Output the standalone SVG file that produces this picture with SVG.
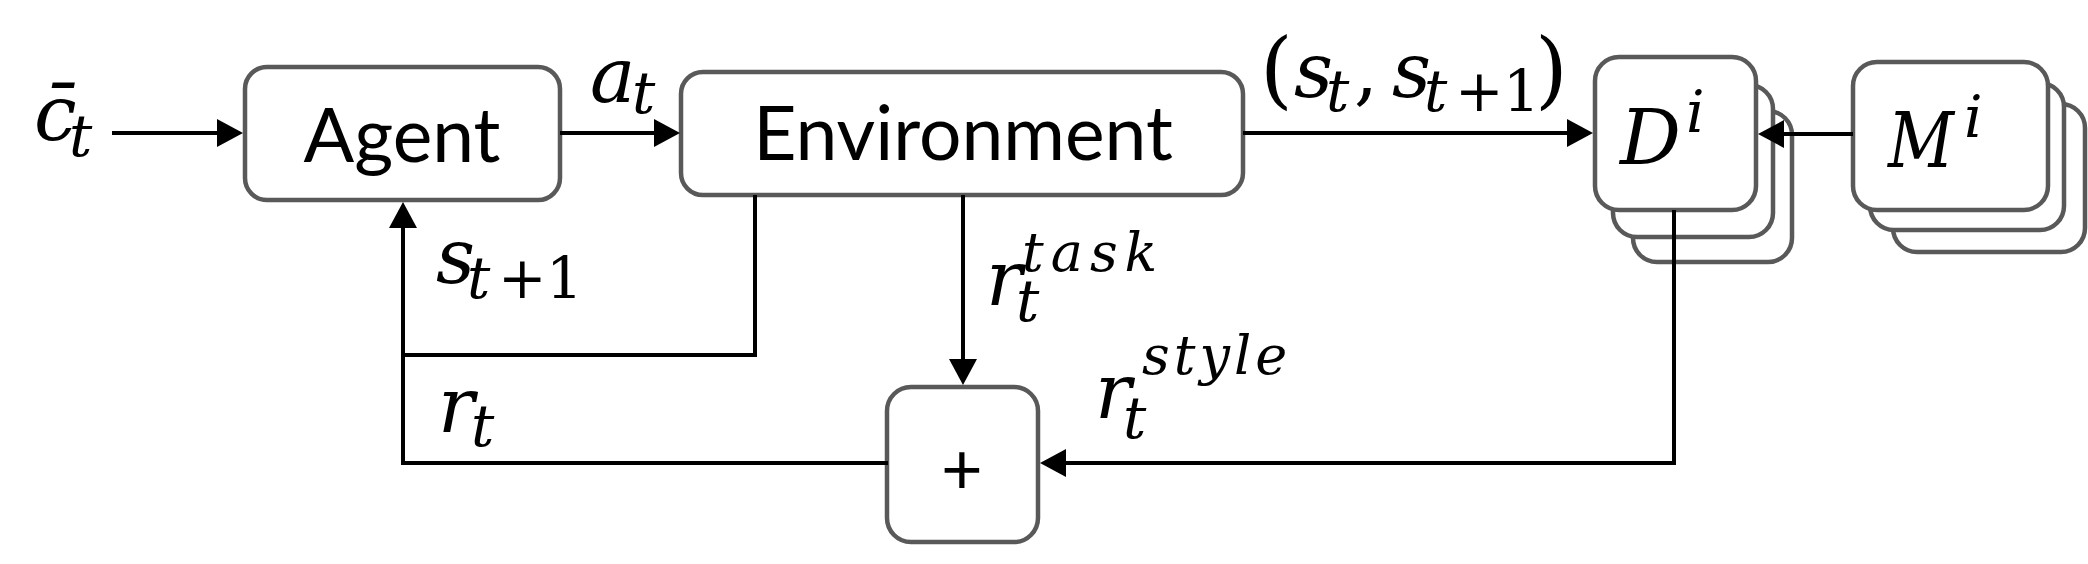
<svg xmlns="http://www.w3.org/2000/svg" width="2088" height="564" viewBox="0 0 2088 564">
<style>
.box{fill:#fff;stroke:#595959;stroke-width:4.5}
.lbl{font-family:Lato,"Liberation Sans",sans-serif;font-size:75px;fill:#000}
.m{font-family:"DejaVu Serif",serif;font-style:italic;font-size:76px;fill:#000}
.s{font-size:58px}
.u{font-style:normal;font-size:58px}
.p{font-style:normal;font-size:84px}
.sup{font-size:54px}
.ln{fill:none;stroke:#000;stroke-width:4;stroke-linejoin:miter}
.arr{marker-end:url(#ah)}
</style>
<defs>
<marker id="ah" markerUnits="userSpaceOnUse" markerWidth="26" markerHeight="28" viewBox="0 0 26 28" refX="20" refY="14" orient="auto">
<path d="M0,0 L26,14 L0,28 z" fill="#000"/>
</marker>
</defs>
<rect width="2088" height="564" fill="#fff"/>
<g id="agent">
<rect class="box" x="245" y="67" width="315" height="133" rx="22"/>
<text class="lbl" x="402" y="162" text-anchor="middle">Agent</text>
</g>
<g id="environment">
<rect class="box" x="681" y="72" width="562" height="123" rx="22"/>
<text class="lbl" x="963" y="160" text-anchor="middle">Environment</text>
</g>
<g id="sum">
<rect class="box" x="887" y="387" width="151" height="155" rx="24"/>
<text class="lbl" x="962" y="494" text-anchor="middle" style="font-size:72px">+</text>
</g>
<g id="discriminators">
<rect class="box" x="1633" y="111" width="159" height="151" rx="24"/>
<rect class="box" x="1613" y="85" width="160" height="152" rx="24"/>
<rect class="box" x="1595" y="57" width="161" height="153" rx="24"/>
<text class="m" x="1620" y="164">D<tspan class="s" x="1686" y="132">i</tspan></text>
</g>
<g id="models">
<rect class="box" x="1893" y="104" width="192" height="148" rx="24"/>
<rect class="box" x="1870" y="83" width="194" height="147" rx="24"/>
<rect class="box" x="1853" y="62" width="195" height="148" rx="24"/>
<text class="m" x="1888" y="167"><tspan textLength="66" lengthAdjust="spacingAndGlyphs">M</tspan><tspan class="s" x="1964" y="137">i</tspan></text>
</g>
<g id="connectors">
<path class="ln arr" d="M112,133 H237"/>
<path class="ln arr" d="M560,133 H674"/>
<path class="ln arr" d="M1243,133 H1587"/>
<path class="ln arr" d="M1853,134 H1764"/>
<path class="ln" d="M755,195 V355 H403"/>
<path class="ln arr" d="M888,463 H403 V208"/>
<path class="ln arr" d="M963,195 V379"/>
<path class="ln arr" d="M1674,210 V463 H1046"/>
</g>
<g id="labels">
<text class="m" x="34" y="140">c&#x304;<tspan class="s" x="69" y="156">t</tspan></text>
<text class="m" x="590" y="102">a<tspan class="s" x="632" y="113">t</tspan></text>
<text class="m" x="1260" y="98"><tspan class="p">(</tspan><tspan x="1294" y="97">s</tspan><tspan class="s" x="1326" y="111">t</tspan><tspan class="u" x="1354" y="97" style="font-size:76px">,</tspan><tspan x="1392" y="97">s</tspan><tspan class="s" x="1424" y="111">t</tspan><tspan class="u" x="1455" y="111">+</tspan><tspan class="u" x="1503" y="111">1</tspan><tspan class="p" x="1535" y="98">)</tspan></text>
<text class="m" x="436" y="283">s<tspan class="s" x="467" y="298">t</tspan><tspan class="u" x="498" y="298">+</tspan><tspan class="u" x="546" y="298">1</tspan></text>
<text class="m" x="438" y="432">r<tspan class="s" x="471" y="446">t</tspan></text>
<text class="m" x="986" y="305">r<tspan class="s" x="1016" y="321">t</tspan><tspan class="sup" x="1022" y="271" letter-spacing="7">task</tspan></text>
<text class="m" x="1095" y="418">r<tspan class="s" x="1123" y="438">t</tspan><tspan class="sup" x="1142" y="374" letter-spacing="4">style</tspan></text>
</g>
</svg>
